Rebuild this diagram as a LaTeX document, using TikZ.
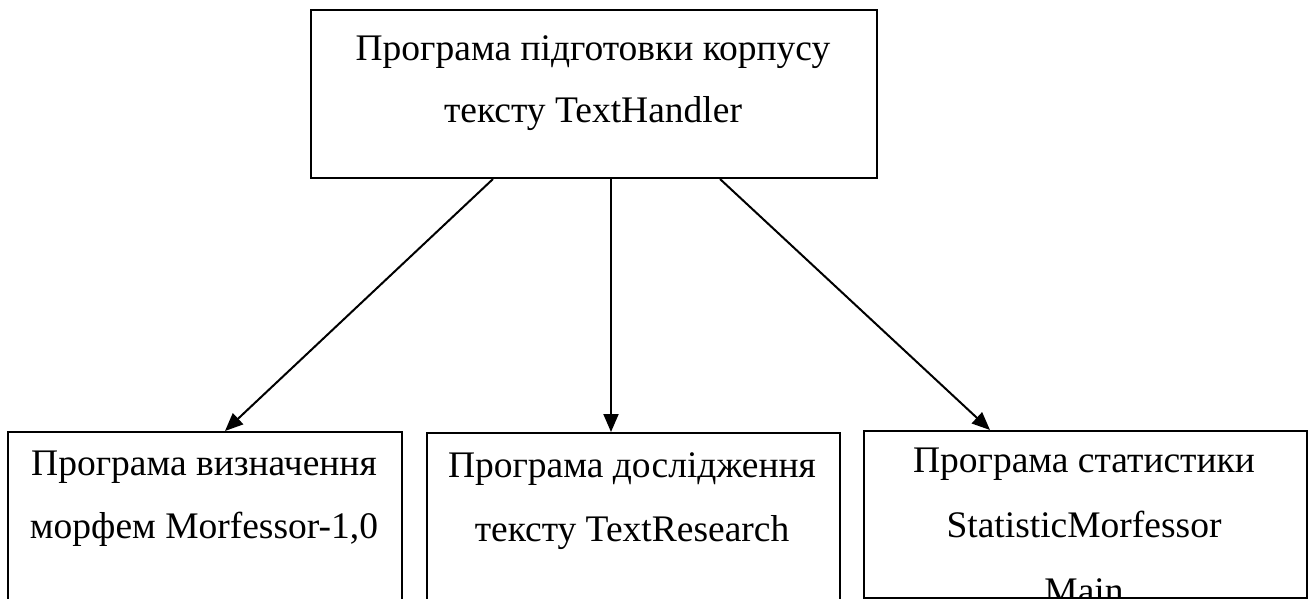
\documentclass[tikz,border=0pt]{standalone}
\usepackage{fontspec}
\setmainfont{Liberation Serif}
\usetikzlibrary{arrows.meta}
\tikzset{
  box/.style={draw=black, line width=2pt, rectangle, inner sep=0pt, anchor=north west},
  txt/.style={font=\fontsize{37.5}{44}\selectfont, inner sep=0pt, anchor=base},
  arr/.style={draw=black, line width=2pt, -{Triangle[length=18pt,width=15pt]}},
}
\begin{document}
\begin{tikzpicture}[x=1pt,y=-1pt]
\useasboundingbox (0,0) rectangle (1310,598);
\clip (0,0) rectangle (1310,598);
\fill[white] (0,0) rectangle (1310,598);

% boxes
\node[box, minimum width=566pt, minimum height=168pt] (top) at (310,9) {};
\node[box, minimum width=394pt, minimum height=220pt] (left) at (7,431) {};
\node[box, minimum width=413pt, minimum height=220pt] (mid) at (426,432) {};
\node[box, minimum width=443pt, minimum height=167pt] (right) at (863,430) {};

% labels
\node[txt] (top1) at (593,60) {Програма підготовки корпусу};
\node[txt] (top2) at (593,122) {тексту TextHandler};
\node[txt] (left1) at (204,475) {Програма визначення};
\node[txt] (left2) at (204,538) {морфем Morfessor-1,0};
\node[txt] (mid1) at (632,477) {Програма дослідження};
\node[txt] (mid2) at (632,541) {тексту TextResearch};
\node[txt] (right1) at (1084,472) {Програма статистики};
\node[txt] (right2) at (1084,537) {StatisticMorfessor};
\begin{scope}
  \clip (right.north west) rectangle ([yshift=1pt]right.south east);
  \node[txt] (right3) at (1084,603) {Main};
\end{scope}

% connectors
\draw[arr] ([xshift=183pt]top.south west) -- ([xshift=218pt]left.north west);
\draw[arr] ([xshift=301pt]top.south west) -- ([xshift=185pt]mid.north west);
\draw[arr] ([xshift=410pt]top.south west) -- ([xshift=127pt]right.north west);
\end{tikzpicture}
\end{document}
